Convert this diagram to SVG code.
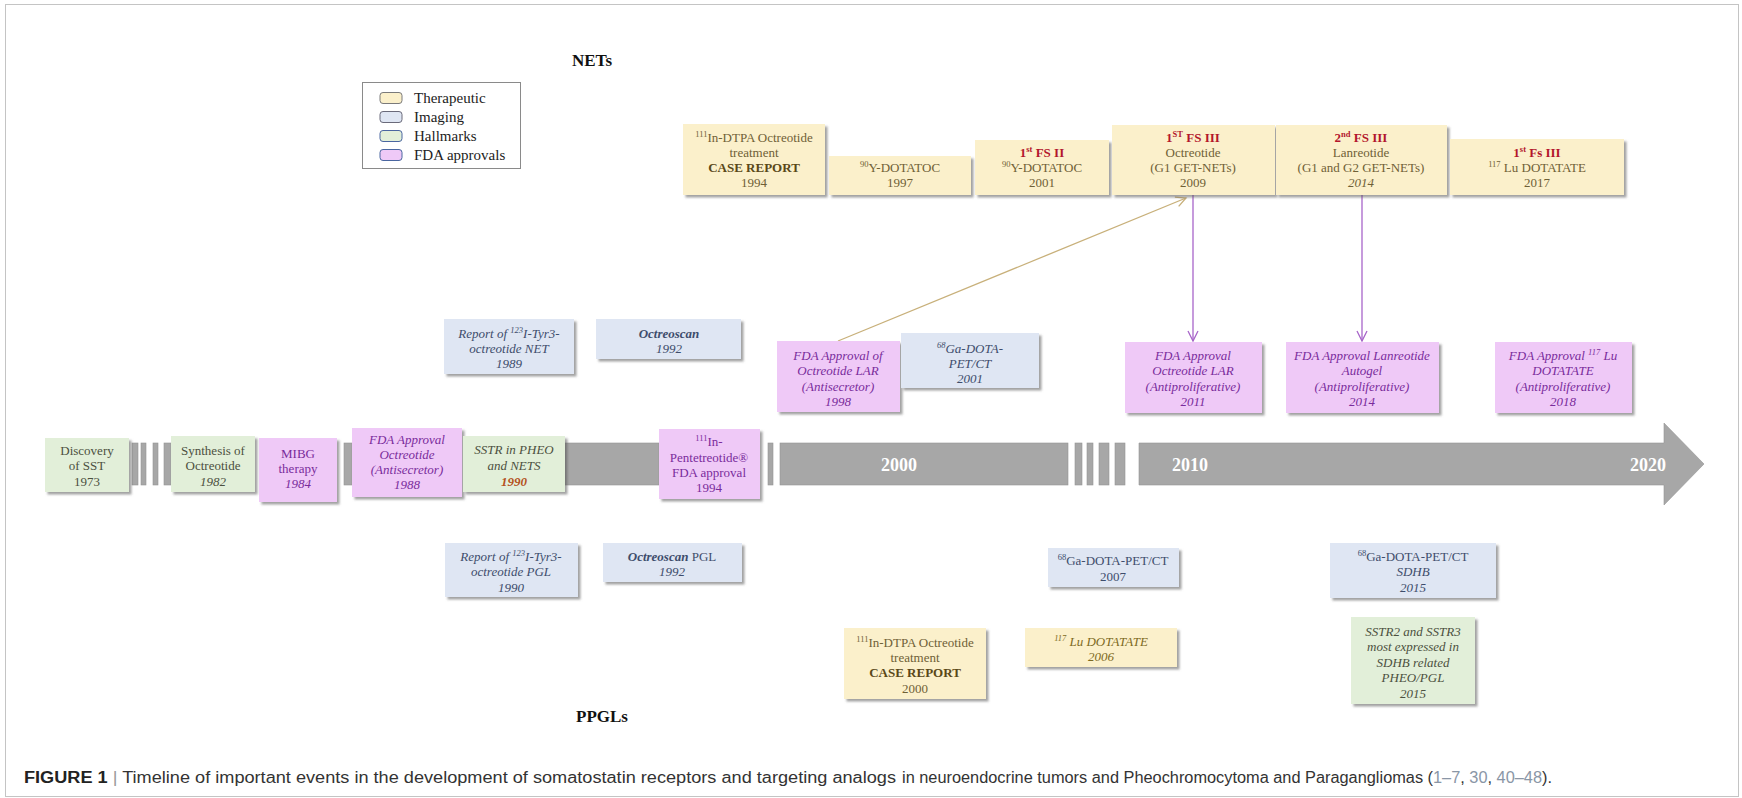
<svg xmlns="http://www.w3.org/2000/svg" width="1742" height="798" viewBox="0 0 1742 798">
<defs>
<filter id="sh" x="-10%" y="-10%" width="125%" height="130%">
<feDropShadow dx="2.5" dy="2.5" stdDeviation="1.3" flood-color="#555" flood-opacity="0.55"/>
</filter>
<marker id="ahTan" markerWidth="14" markerHeight="14" refX="11" refY="6" orient="auto" markerUnits="userSpaceOnUse">
<path d="M1,1 L11,6 L1,11" fill="none" stroke="#c8b07a" stroke-width="1.3"/>
</marker>
<marker id="ahPur" markerWidth="14" markerHeight="14" refX="11" refY="6" orient="auto" markerUnits="userSpaceOnUse">
<path d="M1,1 L11,6 L1,11" fill="none" stroke="#a865c9" stroke-width="1.3"/>
</marker>
<style>
.t{font-family:"Liberation Serif","Times New Roman",serif;font-size:13px;text-anchor:middle}
.i{font-style:italic}
.b{font-weight:bold}
.sup{font-size:8.5px}
.ther{fill:#fbf0cb;filter:url(#sh)}
.img{fill:#dfe6f3;filter:url(#sh)}
.hal{fill:#e2efd9;filter:url(#sh)}
.fda{fill:#efc9f7;filter:url(#sh)}
.tt{fill:#6f6036}
.tb{fill:#5a4818}
.tr{fill:#b3162c}
.ti{fill:#3e4d6c}
.tf{fill:#7a2c9c}
.th{fill:#4c5040}
.bar{fill:#a7a7a7;stroke:#959595;stroke-width:0.6}
.yr{font-family:"Liberation Serif",serif;font-size:18px;font-weight:bold;fill:#fff;text-anchor:middle}
.lg{font-family:"Liberation Serif",serif;font-size:15px;fill:#222}
.cap{font-family:"Liberation Sans",Arial,sans-serif;font-size:16px;fill:#333}
.ref{fill:#8a96a6}
</style>
</defs>
<rect x="0" y="0" width="1742" height="798" fill="#fff"/>
<rect x="5.5" y="4.5" width="1733" height="792" fill="none" stroke="#c4c4c4" stroke-width="1"/>

<text x="592" y="66" font-family="Liberation Serif, serif" font-size="17" font-weight="bold" text-anchor="middle" fill="#111">NETs</text>
<text x="602" y="722" font-family="Liberation Serif, serif" font-size="17" font-weight="bold" text-anchor="middle" fill="#111">PPGLs</text>

<g id="legend">
<rect x="362.5" y="82.5" width="158" height="86" fill="#fff" stroke="#8a8a8a" stroke-width="1"/>
<rect x="380" y="92.5" width="22" height="11" rx="3" fill="#fbf0cb" stroke="#7a7a7a"/>
<rect x="380" y="111.5" width="22" height="11" rx="3" fill="#dfe6f3" stroke="#6a6a7a"/>
<rect x="380" y="130.5" width="22" height="11" rx="3" fill="#e2efd9" stroke="#4a66a0"/>
<rect x="380" y="149.5" width="22" height="11" rx="3" fill="#efc9f7" stroke="#4a66a0"/>
<text class="lg" x="414" y="103">Therapeutic</text>
<text class="lg" x="414" y="122">Imaging</text>
<text class="lg" x="414" y="141">Hallmarks</text>
<text class="lg" x="414" y="160">FDA approvals</text>
</g>

<g id="timeline">
<rect class="bar" x="132" y="443" width="6" height="42"/>
<rect class="bar" x="141" y="443" width="5" height="42"/>
<rect class="bar" x="153" y="443" width="5" height="42"/>
<rect class="bar" x="164" y="443" width="7" height="42"/>
<rect class="bar" x="344" y="443" width="8" height="42"/>
<rect class="bar" x="565" y="443" width="94" height="42"/>
<rect class="bar" x="768" y="443" width="5" height="42"/>
<rect class="bar" x="780" y="443" width="288" height="42"/>
<rect class="bar" x="1075" y="443" width="7" height="42"/>
<rect class="bar" x="1087" y="443" width="6" height="42"/>
<rect class="bar" x="1099" y="443" width="10" height="42"/>
<rect class="bar" x="1115" y="443" width="10" height="42"/>
<path class="bar" d="M1139,443 H1664 V423 L1704,464 L1664,505 V485 H1139 Z"/>
<text class="yr" x="899" y="471">2000</text>
<text class="yr" x="1190" y="471">2010</text>
<text class="yr" x="1648" y="471">2020</text>
</g>

<g id="connectors">
<line x1="838" y1="341" x2="1186" y2="198" stroke="#c8b07a" stroke-width="1.3" marker-end="url(#ahTan)"/>
<line x1="1193" y1="195" x2="1193" y2="341" stroke="#a865c9" stroke-width="1.3" marker-end="url(#ahPur)"/>
<line x1="1362" y1="195" x2="1362" y2="341" stroke="#a865c9" stroke-width="1.3" marker-end="url(#ahPur)"/>
</g>

<g id="n-indtpa-1994">
<rect class="ther" x="683" y="124" width="142" height="71"/>
<text class="t tt" x="754" y="142"><tspan class="sup" baseline-shift="super">111</tspan>In-DTPA Octreotide</text>
<text class="t tt" x="754" y="157">treatment</text>
<text class="t b tb" x="754" y="172">CASE REPORT</text>
<text class="t tt" x="754" y="187">1994</text>
</g>
<g id="n-y90-1997">
<rect class="ther" x="829" y="156" width="142" height="39"/>
<text class="t tt" x="900" y="172"><tspan class="sup" baseline-shift="super">90</tspan>Y-DOTATOC</text>
<text class="t tt" x="900" y="187">1997</text>
</g>
<g id="n-fs2-2001">
<rect class="ther" x="975" y="140" width="134" height="55"/>
<text class="t b tr" x="1042" y="157">1<tspan class="sup" baseline-shift="super">st</tspan> FS II</text>
<text class="t tt" x="1042" y="172"><tspan class="sup" baseline-shift="super">90</tspan>Y-DOTATOC</text>
<text class="t tt" x="1042" y="187">2001</text>
</g>
<g id="n-fs3-2009">
<rect class="ther" x="1112" y="125" width="163" height="70"/>
<text class="t b tr" x="1193" y="142">1<tspan class="sup" baseline-shift="super">ST</tspan> FS III</text>
<text class="t tt" x="1193" y="157">Octreotide</text>
<text class="t tt" x="1193" y="172">(G1 GET-NETs)</text>
<text class="t tt" x="1193" y="187">2009</text>
</g>
<g id="n-fs3-2014">
<rect class="ther" x="1276" y="125" width="171" height="70"/>
<text class="t b tr" x="1361" y="142">2<tspan class="sup" baseline-shift="super">nd</tspan> FS III</text>
<text class="t tt" x="1361" y="157">Lanreotide</text>
<text class="t tt" x="1361" y="172">(G1 and G2 GET-NETs)</text>
<text class="t i tt" x="1361" y="187">2014</text>
</g>
<g id="n-fs3-2017">
<rect class="ther" x="1450" y="139" width="174" height="56"/>
<text class="t b tr" x="1537" y="157">1<tspan class="sup" baseline-shift="super">st</tspan> Fs III</text>
<text class="t tt" x="1537" y="172"><tspan class="sup" baseline-shift="super">117</tspan> Lu DOTATATE</text>
<text class="t tt" x="1537" y="187">2017</text>
</g>

<g id="n-net-1989">
<rect class="img" x="444" y="319" width="130" height="55"/>
<text class="t i ti" x="509" y="337.5">Report of <tspan class="sup" baseline-shift="super">123</tspan>I-Tyr3-</text>
<text class="t i ti" x="509" y="352.5">octreotide NET</text>
<text class="t i ti" x="509" y="367.5">1989</text>
</g>
<g id="n-octreoscan-1992">
<rect class="img" x="596" y="319" width="145" height="40"/>
<text class="t i b ti" x="669" y="337.5">Octreoscan</text>
<text class="t i ti" x="669" y="352.5">1992</text>
</g>
<g id="n-fda-1998">
<rect class="fda" x="777" y="341" width="123" height="71"/>
<text class="t i tf" x="838" y="359.5">FDA Approval of</text>
<text class="t i tf" x="838" y="375">Octreotide LAR</text>
<text class="t i tf" x="838" y="390.5">(Antisecretor)</text>
<text class="t i tf" x="838" y="405.5">1998</text>
</g>
<g id="n-ga-2001">
<rect class="img" x="901" y="333" width="138" height="55"/>
<text class="t i ti" x="970" y="352.5"><tspan class="sup" baseline-shift="super">68</tspan>Ga-DOTA-</text>
<text class="t i ti" x="970" y="367.5">PET/CT</text>
<text class="t i ti" x="970" y="383">2001</text>
</g>
<g id="n-fda-2011">
<rect class="fda" x="1125" y="342" width="137" height="71"/>
<text class="t i tf" x="1193" y="359.5">FDA Approval</text>
<text class="t i tf" x="1193" y="375">Octreotide LAR</text>
<text class="t i tf" x="1193" y="390.5">(Antiproliferative)</text>
<text class="t i tf" x="1193" y="405.5">2011</text>
</g>
<g id="n-fda-2014">
<rect class="fda" x="1286" y="342" width="153" height="71"/>
<text class="t i tf" x="1362" y="359.5">FDA Approval Lanreotide</text>
<text class="t i tf" x="1362" y="375">Autogel</text>
<text class="t i tf" x="1362" y="390.5">(Antiproliferative)</text>
<text class="t i tf" x="1362" y="405.5">2014</text>
</g>
<g id="n-fda-2018">
<rect class="fda" x="1495" y="342" width="137" height="71"/>
<text class="t i tf" x="1563" y="359.5">FDA Approval <tspan class="sup" baseline-shift="super">117</tspan> Lu</text>
<text class="t i tf" x="1563" y="375">DOTATATE</text>
<text class="t i tf" x="1563" y="390.5">(Antiproliferative)</text>
<text class="t i tf" x="1563" y="405.5">2018</text>
</g>

<g id="n-sst-1973">
<rect class="hal" x="45" y="438" width="84" height="54"/>
<text class="t th" x="87" y="454.5">Discovery</text>
<text class="t th" x="87" y="470">of SST</text>
<text class="t th" x="87" y="486">1973</text>
</g>
<g id="n-synth-1982">
<rect class="hal" x="171" y="436" width="84" height="56"/>
<text class="t th" x="213" y="454.5">Synthesis of</text>
<text class="t th" x="213" y="470">Octreotide</text>
<text class="t i th" x="213" y="486">1982</text>
</g>
<g id="n-mibg-1984">
<rect class="fda" x="259" y="438" width="78" height="64"/>
<text class="t tf" x="298" y="457.5">MIBG</text>
<text class="t tf" x="298" y="472.5">therapy</text>
<text class="t i tf" x="298" y="487.5">1984</text>
</g>
<g id="n-fda-1988">
<rect class="fda" x="352" y="428" width="110" height="69"/>
<text class="t i tf" x="407" y="443.5">FDA Approval</text>
<text class="t i tf" x="407" y="458.5">Octreotide</text>
<text class="t i tf" x="407" y="473.5">(Antisecretor)</text>
<text class="t i tf" x="407" y="488.5">1988</text>
</g>
<g id="n-sstr-1990">
<rect class="hal" x="463" y="436" width="102" height="56"/>
<text class="t i th" x="514" y="454">SSTR in PHEO</text>
<text class="t i th" x="514" y="469.5">and NETS</text>
<text class="t i b" x="514" y="485.5" fill="#b4521c">1990</text>
</g>
<g id="n-pentetreotide-1994">
<rect class="fda" x="659" y="429" width="101" height="70"/>
<text class="t tf" x="709" y="446"><tspan class="sup" baseline-shift="super">111</tspan>In-</text>
<text class="t tf" x="709" y="461.5">Pentetreotide®</text>
<text class="t tf" x="709" y="476.5">FDA approval</text>
<text class="t tf" x="709" y="491.5">1994</text>
</g>

<g id="n-pgl-1990">
<rect class="img" x="445" y="543" width="133" height="54"/>
<text class="t i ti" x="511" y="560.5">Report of <tspan class="sup" baseline-shift="super">123</tspan>I-Tyr3-</text>
<text class="t i ti" x="511" y="575.5">octreotide PGL</text>
<text class="t i ti" x="511" y="591.5">1990</text>
</g>
<g id="n-octreoscan-pgl-1992">
<rect class="img" x="603" y="543" width="139" height="39"/>
<text class="t ti" x="672" y="560.5"><tspan class="i b">Octreoscan</tspan> PGL</text>
<text class="t i ti" x="672" y="575.5">1992</text>
</g>
<g id="n-ga-2007">
<rect class="img" x="1048" y="548" width="131" height="39"/>
<text class="t ti" x="1113" y="564.5"><tspan class="sup" baseline-shift="super">68</tspan>Ga-DOTA-PET/CT</text>
<text class="t ti" x="1113" y="580.5">2007</text>
</g>
<g id="n-ga-sdhb-2015">
<rect class="img" x="1330" y="543" width="166" height="55"/>
<text class="t ti" x="1413" y="560.5"><tspan class="sup" baseline-shift="super">68</tspan>Ga-DOTA-PET/CT</text>
<text class="t i ti" x="1413" y="575.5">SDHB</text>
<text class="t i ti" x="1413" y="591.5">2015</text>
</g>
<g id="n-indtpa-2000">
<rect class="ther" x="844" y="628" width="142" height="71"/>
<text class="t tt" x="915" y="646.5"><tspan class="sup" baseline-shift="super">111</tspan>In-DTPA Octreotide</text>
<text class="t tt" x="915" y="661.5">treatment</text>
<text class="t b tb" x="915" y="676.5">CASE REPORT</text>
<text class="t tt" x="915" y="692.5">2000</text>
</g>
<g id="n-lu-2006">
<rect class="ther" x="1025" y="628" width="152" height="39"/>
<text class="t i" x="1101" y="645.5" fill="#7d6a22"><tspan class="sup" baseline-shift="super">117</tspan> Lu DOTATATE</text>
<text class="t i" x="1101" y="660.5" fill="#7d6a22">2006</text>
</g>
<g id="n-sstr23-2015">
<rect class="hal" x="1351" y="617" width="124" height="87"/>
<text class="t i th" x="1413" y="635.5">SSTR2 and SSTR3</text>
<text class="t i th" x="1413" y="651">most expressed in</text>
<text class="t i th" x="1413" y="666.5">SDHB related</text>
<text class="t i th" x="1413" y="682">PHEO/PGL</text>
<text class="t i th" x="1413" y="697.5">2015</text>
</g>

<g id="caption">
<text class="cap" x="24" y="783" textLength="872" lengthAdjust="spacingAndGlyphs"><tspan font-weight="bold" fill="#222">FIGURE 1</tspan><tspan fill="#999"> | </tspan>Timeline of important events in the development of somatostatin receptors and targeting analogs</text>
<text class="cap" x="902" y="783" textLength="650" lengthAdjust="spacingAndGlyphs">in neuroendocrine tumors and Pheochromocytoma and Paragangliomas (<tspan class="ref">1–7</tspan>, <tspan class="ref">30</tspan>, <tspan class="ref">40–48</tspan>).</text>
</g>
</svg>
